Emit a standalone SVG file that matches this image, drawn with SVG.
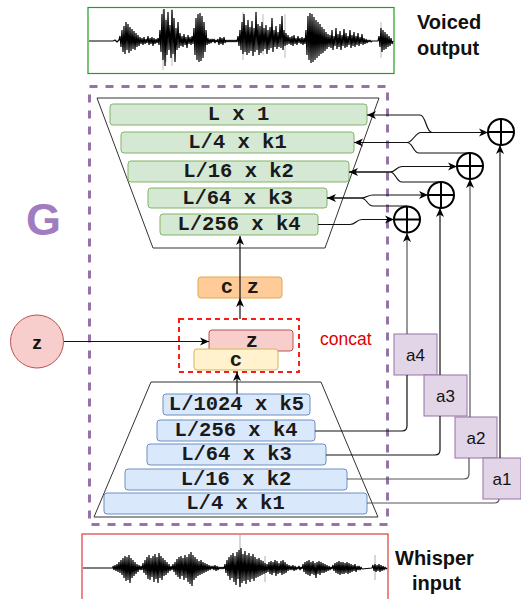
<svg xmlns="http://www.w3.org/2000/svg" width="521" height="599" viewBox="0 0 521 599">
<style>
.mono{font-family:"Liberation Mono","Courier New",monospace;font-weight:bold;font-size:20.5px;fill:#1a1a1a;text-anchor:middle;dominant-baseline:central}
.sans{font-family:"Liberation Sans",Arial,sans-serif;fill:#111}
.dec{fill:#d5e8d4;stroke:#82b366;stroke-width:1}
.enc{fill:#dae8fc;stroke:#6c8ebf;stroke-width:1}
.abox{fill:#e1d5e7;stroke:#9673a6;stroke-width:1}
.alab{font-family:"Liberation Sans",Arial,sans-serif;font-size:17px;fill:#111;text-anchor:middle;dominant-baseline:central}
.edge{fill:none;stroke:#111;stroke-width:1.2}
.edgeg{fill:none;stroke:#555;stroke-width:1.2}
.arr{marker-end:url(#ah)}
.plus{fill:#fff;stroke:#000;stroke-width:2}
.wave{fill:none;stroke:#000;stroke-width:1.2;stroke-linejoin:bevel}
</style>
<defs>
<marker id="ah" markerWidth="10" markerHeight="10" refX="9" refY="5" orient="auto" markerUnits="userSpaceOnUse">
<path d="M0,1 L9,5 L0,9 L2.5,5 z" fill="#000"/>
</marker>
</defs>
<rect width="521" height="599" fill="#fff"/>

<g id="voiced-output">
<rect x="88" y="7.5" width="306" height="66" fill="#fff" stroke="#1f9e1f" stroke-width="1.2"/>
<path d="M163,10V70M172,9V66M243,12V60M285,14V58M263,14V55M381,22V58M166,18V62" stroke="#aaa" stroke-width="0.8" fill="none"/>
<polyline class="wave" points="89,41 113,41 115,40 117,42 119,40 120,36 121,47 122,30 123,52 124,26 125,54 126,22 127,50 128,24 129,53 130,27 131,51 132,29 133,49 134,31 135,50 136,33 137,47 138,35 139,46 140,37 141,44 142,38 143,45 144,37 145,44 146,39 147,43 148,36 149,45 150,38 151,44 152,37 153,46 154,38 155,44 156,39 157,43 158,38 159,45 160,30 161,52 162,14 163,60 164,9 165,66 166,20 167,55 168,12 169,50 170,25 171,58 172,10 173,54 174,18 175,62 176,28 177,50 178,22 179,48 180,33 181,46 182,36 183,47 184,34 185,45 186,37 187,48 188,35 189,44 190,37 191,45 192,36 193,44 194,28 195,55 196,18 197,60 198,14 199,62 200,13 201,61 202,16 203,58 204,22 205,52 206,30 207,45 208,38 209,44 210,39 211,43 212,39 213,42 214,39 215,43 216,40 217,42 218,39 219,45 220,37 221,44 222,38 223,45 224,37 225,43 226,40 227,42 228,40 229,42 230,40 231,42 232,40 233,42 234,40 235,42 236,40 237,42 238,36 239,46 240,30 241,50 242,22 243,54 244,14 245,52 246,25 247,55 248,20 249,53 250,27 251,51 252,21 253,56 254,28 255,52 256,12 257,50 258,24 259,55 260,26 261,53 262,22 263,51 264,28 265,49 266,25 267,54 268,30 269,50 270,27 271,48 272,18 273,52 274,30 275,47 276,26 277,49 278,32 279,47 280,24 281,48 282,16 283,50 284,30 285,46 286,33 287,45 288,35 289,44 290,37 291,45 292,36 293,46 294,35 295,44 296,38 297,45 298,36 299,43 300,38 301,44 302,37 303,45 304,38 305,44 306,30 307,55 308,16 309,60 310,13 311,63 312,14 313,62 314,17 315,60 316,20 317,58 318,22 319,56 320,24 321,54 322,27 323,53 324,29 325,51 326,32 327,49 328,34 329,47 330,35 331,48 332,30 333,50 334,36 335,46 336,28 337,49 338,34 339,47 340,31 341,50 342,35 343,46 344,29 345,48 346,33 347,47 348,36 349,45 350,30 351,48 352,35 353,46 354,32 355,47 356,36 357,45 358,33 359,46 360,37 361,44 362,34 363,45 364,38 365,44 366,39 367,43 368,40 369,42 370,40 371,42 372,41 378,41 379,36 380,47 381,28 382,52 383,30 384,50 385,32 386,49 387,34 388,47 389,36 390,46 391,38 392,44 393,41"/>
<text class="sans" x="417" y="29" font-size="20" font-weight="bold">Voiced</text>
<text class="sans" x="417" y="55" font-size="20" font-weight="bold">output</text>
</g>

<g id="generator">
<rect x="89.5" y="86.5" width="298" height="438" fill="none" stroke="#9673a6" stroke-width="3" stroke-dasharray="8 8"/>
<text x="43.5" y="235" font-family="Liberation Sans,Arial,sans-serif" font-weight="bold" font-size="45" fill="#a07cc0" text-anchor="middle">G</text>
</g>

<g id="decoder">
<polygon points="97,98 379,98 325,248 153,248" fill="#fff" stroke="#333" stroke-width="1"/>
<g id="dec-Lx1"><rect class="dec" x="110" y="104" width="257" height="21" rx="3"/><text class="mono" x="238.5" y="114.5">L x 1</text></g>
<g id="dec-L4k1"><rect class="dec" x="121" y="132" width="233" height="21" rx="3"/><text class="mono" x="237.5" y="142.5">L/4 x k1</text></g>
<g id="dec-L16k2"><rect class="dec" x="128" y="161" width="221" height="21" rx="3"/><text class="mono" x="238.5" y="171.5">L/16 x k2</text></g>
<g id="dec-L64k3"><rect class="dec" x="148" y="188" width="179" height="20" rx="3"/><text class="mono" x="237.5" y="198">L/64 x k3</text></g>
<g id="dec-L256k4"><rect class="dec" x="160" y="214" width="158" height="21" rx="3"/><text class="mono" x="239" y="224.5">L/256 x k4</text></g>
</g>

<g id="cz">
<rect x="198" y="277" width="84" height="21" rx="3" fill="#ffcc99" stroke="#deab45" stroke-width="1"/>
<text class="mono" x="227" y="287.5" font-size="19">c</text>
<text class="mono" x="253" y="287.5" font-size="19">z</text>
</g>

<g id="concat">
<rect x="179" y="319" width="120" height="53" fill="none" stroke="#ff1a1a" stroke-width="2" stroke-dasharray="5 4"/>
<g id="zbox"><rect x="209" y="330" width="84" height="21" rx="3" fill="#f8cecc" stroke="#b85450" stroke-width="1"/><text class="mono" x="252" y="341" font-size="19">z</text></g>
<g id="cbox"><rect x="194" y="349" width="84" height="21" rx="3" fill="#fff2cc" stroke="#d6b656" stroke-width="1"/><text class="mono" x="236" y="360" font-size="19">c</text></g>
<text x="320" y="345" font-family="Liberation Sans,Arial,sans-serif" font-size="17.5" fill="#e00000">concat</text>
</g>

<g id="z-node">
<circle cx="37" cy="341.5" r="26.5" fill="#f8cecc" stroke="#b85450" stroke-width="1"/>
<text x="37" y="342" font-family="Liberation Sans,Arial,sans-serif" font-weight="bold" font-size="19" fill="#111" text-anchor="middle" dominant-baseline="central">z</text>
</g>

<g id="encoder">
<polygon points="151,382 321,382 378,517 94,517" fill="#fff" stroke="#333" stroke-width="1"/>
<g id="enc-L1024k5"><rect class="enc" x="163" y="394" width="147" height="21" rx="3"/><text class="mono" x="236.5" y="404.5">L/1024 x k5</text></g>
<g id="enc-L256k4"><rect class="enc" x="157" y="420" width="158" height="21" rx="3"/><text class="mono" x="236" y="430.5">L/256 x k4</text></g>
<g id="enc-L64k3"><rect class="enc" x="147" y="444" width="179" height="21" rx="3"/><text class="mono" x="236.5" y="454.5">L/64 x k3</text></g>
<g id="enc-L16k2"><rect class="enc" x="125" y="469" width="222" height="21" rx="3"/><text class="mono" x="236" y="479.5">L/16 x k2</text></g>
<g id="enc-L4k1"><rect class="enc" x="104" y="493" width="263" height="21" rx="3"/><text class="mono" x="235.5" y="503.5">L/4 x k1</text></g>
</g>

<g id="a4"><rect class="abox" x="394" y="334" width="43" height="41"/><text class="alab" x="415.5" y="355">a4</text></g>
<g id="a3"><rect class="abox" x="424" y="375" width="43" height="41"/><text class="alab" x="445.5" y="396">a3</text></g>
<g id="a2"><rect class="abox" x="455" y="417" width="42" height="41"/><text class="alab" x="476" y="438">a2</text></g>
<g id="a1"><rect class="abox" x="483" y="458" width="38" height="41"/><text class="alab" x="502" y="479">a1</text></g>

<g id="connectors">
<path class="edge arr" d="M64,341.5 H209"/>
<path class="edge arr" d="M237,394 V372"/>
<path class="edge arr" d="M240,319 V298"/>
<path class="edge arr" d="M240,298 V236"/>
<path class="edge" d="M315,431 H402 Q407,431 407,426 V375"/>
<path class="edge" d="M326,455 H435 Q440,455 440,450 V416"/>
<path class="edgeg" d="M347,479 H464 Q469,479 469,474 V458"/>
<path class="edgeg" d="M367,503 H494 Q499,503 499,499"/>
<path class="edgeg arr" d="M407,334 V233"/>
<path class="edge arr" d="M440,375 V208"/>
<path class="edgeg arr" d="M470,417 V179"/>
<path class="edge arr" d="M500,458 V145"/>
<path class="edge arr" d="M318,224.5 H350 C356,224.5 356,219.5 362,219.5 H394"/>
<path class="edge arr" d="M407,206 H373 C367,206 367,198 361,198 H327"/>
<path class="edge arr" d="M327,198 H361 C367,198 367,195 373,195 H428"/>
<path class="edge arr" d="M441,182 H402 C396,182 396,172 390,172 H349"/>
<path class="edge arr" d="M349,172 H390 C396,172 396,166.5 402,166.5 H457"/>
<path class="edge arr" d="M470,153 H419 C413,153 413,142.5 407,142.5 H354"/>
<path class="edge arr" d="M354,142.5 H407 C413,142.5 415,132.5 421,132.5 H488"/>
<path class="edge arr" d="M488,132.5 H432 C426,132.5 426,115 420,115 H367"/>
</g>

<g id="sum1"><circle class="plus" cx="501" cy="132" r="13"/><path d="M488,132H514M501,119V145" stroke="#000" stroke-width="2"/></g>
<g id="sum2"><circle class="plus" cx="470" cy="166" r="13"/><path d="M457,166H483M470,153V179" stroke="#000" stroke-width="2"/></g>
<g id="sum3"><circle class="plus" cx="441" cy="195" r="13"/><path d="M428,195H454M441,182V208" stroke="#000" stroke-width="2"/></g>
<g id="sum4"><circle class="plus" cx="407" cy="219.5" r="13"/><path d="M394,219.5H420M407,206.5V232.5" stroke="#000" stroke-width="2"/></g>

<g id="whisper-input">
<rect x="82" y="534" width="306" height="70" fill="#fff" stroke="#e03a3a" stroke-width="1.2"/>
<path d="M240,535V587M180,560V578M265,556V582M375,555V580" stroke="#999" stroke-width="0.8" fill="none"/>
<polyline class="wave" points="83,568 113,568 113,566 114,570 115,565 116,571 117,564 118,572 119,562 120,573 121,560 122,575 123,558 124,578 125,556 126,581 127,557 128,580 129,555 130,583 131,558 132,578 133,560 134,576 135,562 136,574 137,564 138,572 139,565 140,570 141,566 142,570 143,563 144,573 145,560 146,575 147,557 148,579 149,555 150,580 151,558 152,577 153,556 154,582 155,554 156,579 157,557 158,583 159,553 160,578 161,556 162,580 163,558 164,576 165,560 166,575 167,562 168,573 169,564 170,571 171,566 172,570 173,564 174,572 175,562 176,575 177,559 178,577 179,557 180,579 181,556 182,576 183,558 184,580 185,555 186,578 187,557 188,582 189,554 190,584 191,552 192,586 193,555 194,580 195,557 196,578 197,559 198,576 199,561 200,575 201,560 202,574 203,562 204,573 205,563 206,572 207,564 208,571 209,565 210,570 211,566 212,569 213,566 214,570 215,565 216,571 217,566 218,570 219,567 220,569 221,567 222,569 223,567 224,569 225,564 226,573 227,560 228,576 229,557 230,580 231,555 232,578 233,553 234,582 235,556 236,585 237,552 238,579 239,550 240,587 241,548 242,583 243,554 244,581 245,551 246,584 247,555 248,580 249,553 250,582 251,556 252,579 253,554 254,581 255,557 256,578 257,559 258,577 259,558 260,576 261,560 262,575 263,561 264,574 265,563 266,573 267,564 268,572 269,562 270,574 271,561 272,575 273,562 274,573 275,560 276,576 277,561 278,574 279,563 280,573 281,561 282,575 283,560 284,574 285,562 286,573 287,564 288,571 289,565 290,570 291,566 292,570 293,565 294,571 295,566 296,570 297,567 298,569 299,566 300,570 301,567 302,569 303,564 304,572 305,562 306,574 307,561 308,575 309,560 310,576 311,562 312,574 313,561 314,575 315,563 316,578 317,562 318,574 319,561 320,575 321,562 322,573 323,563 324,573 325,564 326,572 327,565 328,571 329,566 330,570 331,567 332,569 333,565 334,571 335,563 336,573 337,562 338,574 339,561 340,575 341,562 342,574 343,562 344,574 345,563 346,573 347,562 348,574 349,563 350,573 351,564 352,572 353,565 354,571 355,564 356,572 357,566 358,570 359,566 360,570 361,567 362,569 372,568 373,565 374,571 375,564 376,572 377,565 378,571 379,564 380,572 381,565 382,571 383,566 384,570 385,567 386,569 387,568"/>
<text class="sans" x="395" y="565" font-size="20" font-weight="bold">Whisper</text>
<text class="sans" x="412" y="590" font-size="20" font-weight="bold">input</text>
</g>
</svg>
